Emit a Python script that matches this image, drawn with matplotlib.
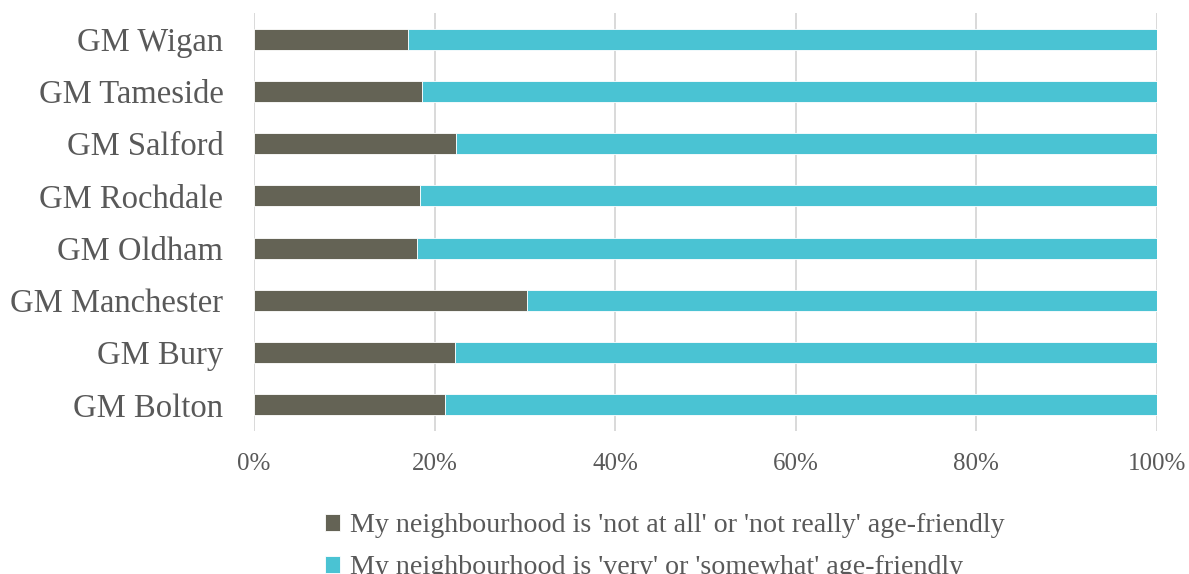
import matplotlib
matplotlib.use("Agg")
import matplotlib.pyplot as plt
from matplotlib.ticker import PercentFormatter

categories = ["GM Bolton", "GM Bury", "GM Manchester", "GM Oldham",
              "GM Rochdale", "GM Salford", "GM Tameside", "GM Wigan"]
not_friendly = [21.2, 22.3, 30.2, 18.1, 18.4, 22.4, 18.6, 17.1]
friendly = [100 - v for v in not_friendly]
series_labels = ["My neighbourhood is 'not at all' or 'not really' age-friendly",
                 "My neighbourhood is 'very' or 'somewhat' age-friendly"]
x_ticks = [0, 20, 40, 60, 80, 100]

dark = "#646355"
cyan = "#4AC3D3"
text_col = "#595959"

plt.rcParams["font.family"] = ["Liberation Serif", "DejaVu Serif"]

fig = plt.figure(figsize=(11.89, 5.74), dpi=100)
ax = fig.add_axes([254 / 1189, 1 - 431 / 574, (1157 - 254) / 1189, (431 - 13) / 574])

y = range(len(categories))
b1 = ax.barh(y, not_friendly, height=0.4, color=dark, edgecolor="white",
             linewidth=0.6, label=series_labels[0], zorder=3)
b2 = ax.barh(y, friendly, left=not_friendly, height=0.4, color=cyan,
             edgecolor="white", linewidth=0.6, label=series_labels[1], zorder=3)

ax.set_xlim(0, 100)
ax.set_ylim(-0.5, len(categories) - 0.5)
ax.set_xticks(x_ticks)
ax.xaxis.set_major_formatter(PercentFormatter(decimals=0))
ax.set_yticks(list(y))
ax.set_yticklabels(categories)

ax.grid(axis="x", color="#D9D9D9", linewidth=1.4, zorder=0)
ax.set_axisbelow(True)
for s in ax.spines.values():
    s.set_visible(False)
ax.tick_params(axis="y", length=0, pad=22, labelsize=23.5, labelcolor=text_col)
ax.tick_params(axis="x", length=0, pad=16, labelsize=18, labelcolor=text_col)

leg = fig.legend(handles=[b1, b2], loc="upper left",
                 bbox_to_anchor=(325 / 1189, 1 - 513 / 574),
                 frameon=False, fontsize=20.2, handlelength=0.55, handleheight=0.55,
                 handletextpad=0.35, labelspacing=0.62, borderaxespad=0,
                 borderpad=0)
for t in leg.get_texts():
    t.set_color(text_col)

fig.savefig("out.png", dpi=100)
